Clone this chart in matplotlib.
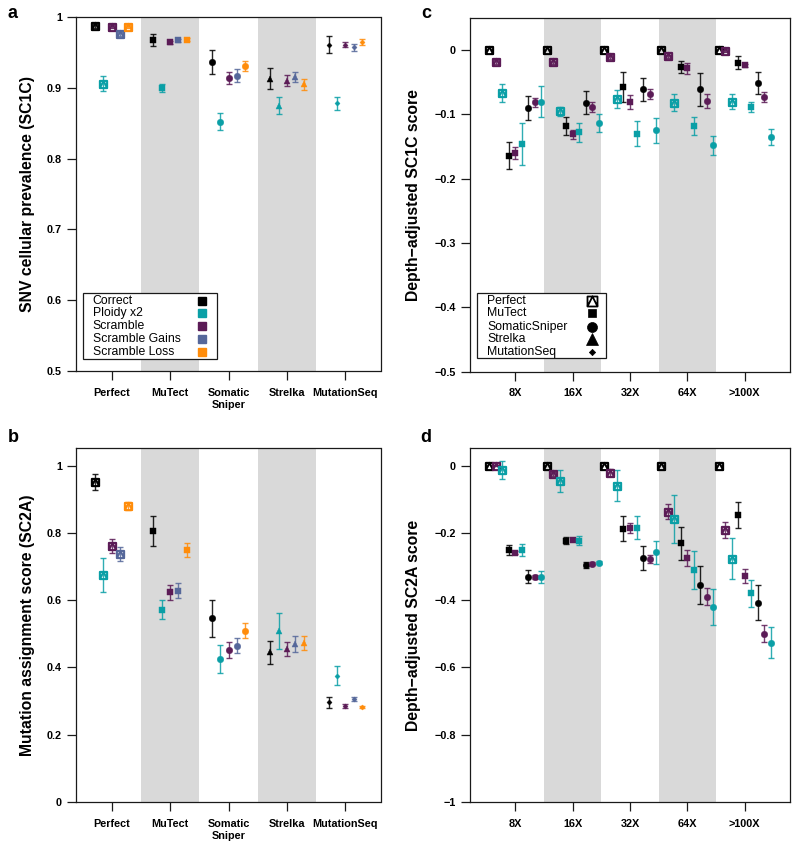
import numpy as np
import matplotlib
matplotlib.use('Agg')
import matplotlib.pyplot as plt
from matplotlib.path import Path
from matplotlib.patches import Rectangle

plt.rcParams['font.family'] = ['Liberation Sans', 'DejaVu Sans']

# ---------------- data ----------------
tools = ['Perfect', 'MuTect', 'Somatic\nSniper', 'Strelka', 'MutationSeq']
conditions = ['Correct', 'Ploidy x2', 'Scramble', 'Scramble Gains', 'Scramble Loss']
depths = ['8X', '16X', '32X', '64X', '>100X']
legend_tools = ['Perfect', 'MuTect', 'SomaticSniper', 'Strelka', 'MutationSeq']

# panel a: SNV cellular prevalence (SC1C), per tool
a_correct = [0.987, 0.968, 0.936, 0.913, 0.961]
a_correct_err = [0.003, 0.0085, 0.017, 0.015, 0.012]
a_ploidy = [0.906, 0.900, 0.852, 0.875, 0.878]
a_ploidy_err = [0.011, 0.006, 0.012, 0.012, 0.009]
a_scramble = [0.986, 0.964, 0.914, 0.910, 0.961]
a_scramble_err = [0.002, 0.002, 0.008, 0.008, 0.004]
a_gains = [0.976, 0.967, 0.917, 0.915, 0.957]
a_gains_err = [0.003, 0.002, 0.009, 0.007, 0.005]
a_loss = [0.986, 0.968, 0.931, 0.905, 0.965]
a_loss_err = [0.002, 0.002, 0.007, 0.008, 0.004]

# panel b: Mutation assignment score (SC2A), per tool
b_correct = [0.952, 0.805, 0.546, 0.445, 0.296]
b_correct_err = [0.023, 0.045, 0.056, 0.034, 0.017]
b_ploidy = [0.675, 0.572, 0.425, 0.509, 0.375]
b_ploidy_err = [0.052, 0.028, 0.042, 0.054, 0.028]
b_scramble = [0.761, 0.624, 0.452, 0.454, 0.285]
b_scramble_err = [0.020, 0.022, 0.023, 0.021, 0.006]
b_gains = [0.738, 0.628, 0.465, 0.470, 0.306]
b_gains_err = [0.020, 0.022, 0.023, 0.025, 0.007]
b_loss = [0.880, 0.749, 0.509, 0.472, 0.283]
b_loss_err = [0.012, 0.020, 0.022, 0.021, 0.003]

# panel c: Depth-adjusted SC1C score, per depth
c_perfect_correct = [0.0, 0.0, 0.0, 0.0, 0.0]
c_perfect_correct_err = [0.0, 0.0, 0.0, 0.0, 0.0]
c_perfect_scramble = [-0.019, -0.018, -0.011, -0.010, -0.001]
c_perfect_scramble_err = [0.003, 0.004, 0.003, 0.003, 0.002]
c_perfect_ploidy = [-0.067, -0.095, -0.076, -0.082, -0.080]
c_perfect_ploidy_err = [0.0145, 0.007, 0.014, 0.013, 0.012]
c_mutect_correct = [-0.164, -0.118, -0.057, -0.026, -0.020]
c_mutect_correct_err = [0.021, 0.014, 0.023, 0.009, 0.010]
c_mutect_scramble = [-0.160, -0.131, -0.081, -0.0285, -0.024]
c_mutect_scramble_err = [0.009, 0.007, 0.011, 0.008, 0.002]
c_mutect_ploidy = [-0.146, -0.128, -0.130, -0.118, -0.088]
c_mutect_ploidy_err = [0.033, 0.015, 0.019, 0.014, 0.008]
c_ss_correct = [-0.090, -0.082, -0.061, -0.061, -0.051]
c_ss_correct_err = [0.018, 0.018, 0.018, 0.026, 0.017]
c_ss_scramble = [-0.081, -0.089, -0.068, -0.079, -0.073]
c_ss_scramble_err = [0.007, 0.008, 0.008, 0.011, 0.007]
c_ss_ploidy = [-0.080, -0.113, -0.125, -0.148, -0.135]
c_ss_ploidy_err = [0.024, 0.014, 0.020, 0.015, 0.013]

# panel d: Depth-adjusted SC2A score, per depth
d_perfect_correct = [0.0, 0.0, 0.0, 0.0, 0.0]
d_perfect_correct_err = [0.0, 0.0, 0.0, 0.0, 0.0]
d_perfect_scramble = [0.0, -0.026, -0.021, -0.137, -0.190]
d_perfect_scramble_err = [0.002, 0.006, 0.010, 0.023, 0.024]
d_perfect_ploidy = [-0.013, -0.045, -0.059, -0.159, -0.276]
d_perfect_ploidy_err = [0.028, 0.032, 0.046, 0.072, 0.061]
d_mutect_correct = [-0.251, -0.223, -0.187, -0.230, -0.147]
d_mutect_correct_err = [0.015, 0.010, 0.036, 0.049, 0.039]
d_mutect_scramble = [-0.259, -0.222, -0.184, -0.275, -0.328]
d_mutect_scramble_err = [0.004, 0.003, 0.015, 0.024, 0.020]
d_mutect_ploidy = [-0.251, -0.223, -0.184, -0.310, -0.380]
d_mutect_ploidy_err = [0.017, 0.013, 0.035, 0.057, 0.040]
d_ss_correct = [-0.330, -0.295, -0.275, -0.355, -0.407]
d_ss_correct_err = [0.019, 0.010, 0.035, 0.057, 0.053]
d_ss_scramble = [-0.330, -0.291, -0.277, -0.390, -0.500]
d_ss_scramble_err = [0.006, 0.004, 0.012, 0.025, 0.025]
d_ss_ploidy = [-0.330, -0.288, -0.258, -0.420, -0.526]
d_ss_ploidy_err = [0.018, 0.004, 0.034, 0.053, 0.047]

# ---------------- styles ----------------
COL = {'Correct': '#000000', 'Ploidy x2': '#0A9FA6', 'Scramble': '#5B1B56',
       'Scramble Gains': '#55679A', 'Scramble Loss': '#FF8C0A'}
BAND = '#D9D9D9'

perfect_marker = Path(
    [(-0.5, -0.5), (0.5, -0.5), (0.5, 0.5), (-0.5, 0.5), (-0.5, -0.5),
     (-0.5, -0.5), (0.0, 0.5), (0.5, -0.5)],
    [Path.MOVETO, Path.LINETO, Path.LINETO, Path.LINETO, Path.CLOSEPOLY,
     Path.MOVETO, Path.LINETO, Path.LINETO])

# marker, size (pt), hollow
TOOL_MK = [(perfect_marker, 5.2, True), ('s', 4.3, False), ('o', 4.7, False),
           ('^', 5.0, False), ('D', 2.6, False)]

fig = plt.figure(figsize=(8, 8.52), dpi=100)


def px_axes(l, t, r, b):
    return fig.add_axes([l / 800, 1 - b / 852, (r - l) / 800, (b - t) / 852])


def draw_point(ax, x, y, e, color, mk):
    m, ms, hollow = mk
    if e > 0:
        ax.errorbar([x], [y], yerr=[e], fmt='none', ecolor=color, alpha=0.85,
                    elinewidth=1.0, capsize=2.2, capthick=1.0, zorder=2)
    if hollow:
        ax.plot([x], [y], marker=m, ms=ms, mfc='none', mec=color, mew=1.5,
                ls='none', zorder=3)
    else:
        ax.plot([x], [y], marker=m, ms=ms, mfc=color, mec=color, mew=0.3,
                ls='none', zorder=3)


def style(ax, xticks, xlabels, yticks, ylabels, xlim, ylim, ylabel, lab_x):
    ax.set_xlim(*xlim)
    ax.set_ylim(*ylim)
    for i in (2, 4):
        ax.axvspan(i - 0.5, i + 0.5, color=BAND, lw=0, zorder=0)
    ax.set_xticks(xticks)
    ax.set_xticklabels(xlabels, fontweight='bold', fontsize=7.8, linespacing=1.25)
    ax.set_yticks(yticks)
    ax.set_yticklabels(ylabels, fontweight='bold', fontsize=7.8)
    for s in ax.spines.values():
        s.set_linewidth(0.9)
        s.set_color('#1a1a1a')
    ax.tick_params(axis='both', direction='out', length=6.5, width=0.9, color='#1a1a1a')
    ax.tick_params(axis='x', pad=5.5)
    ax.tick_params(axis='y', pad=3.5)
    ax.text(lab_x, 0.5, ylabel, transform=ax.transAxes, rotation=90, ha='center',
            va='center', fontweight='bold', fontsize=11.3)


pos = np.arange(1, 6)

# ---------- panels a & b ----------
def tool_panel(ax, series):
    for ci, (cond, vals, errs) in enumerate(series):
        off = (ci - 2) * 0.143
        for ti in range(5):
            draw_point(ax, pos[ti] + off, vals[ti], errs[ti], COL[cond], TOOL_MK[ti])


axA = px_axes(76, 17, 380.5, 371)
tool_panel(axA, [('Correct', a_correct, a_correct_err), ('Ploidy x2', a_ploidy, a_ploidy_err),
                 ('Scramble', a_scramble, a_scramble_err), ('Scramble Gains', a_gains, a_gains_err),
                 ('Scramble Loss', a_loss, a_loss_err)])
style(axA, pos, tools, [0.5, 0.6, 0.7, 0.8, 0.9, 1.0], ['0.5', '0.6', '0.7', '0.8', '0.9', '1'],
      (0.39, 5.6), (0.5, 1.0), 'SNV cellular prevalence (SC1C)', -0.158)

axB = px_axes(76, 448, 380.5, 802)
tool_panel(axB, [('Correct', b_correct, b_correct_err), ('Ploidy x2', b_ploidy, b_ploidy_err),
                 ('Scramble', b_scramble, b_scramble_err), ('Scramble Gains', b_gains, b_gains_err),
                 ('Scramble Loss', b_loss, b_loss_err)])
style(axB, pos, tools, [0, 0.2, 0.4, 0.6, 0.8, 1.0], ['0', '0.2', '0.4', '0.6', '0.8', '1'],
      (0.39, 5.6), (0.0, 1.0526), 'Mutation assignment score (SC2A)', -0.158)

# legend a
axA.add_patch(Rectangle((0.022, 0.034), 0.441, 0.1855, transform=axA.transAxes,
                        fc='white', ec='#1a1a1a', lw=0.9, zorder=5))
rows = [0.1986, 0.163, 0.1271, 0.0895, 0.0545]
for cond, yr in zip(conditions, rows):
    axA.text(0.0549, yr, cond, transform=axA.transAxes, ha='left', va='center',
             fontsize=8.8, zorder=6)
    axA.plot([0.4128], [yr], marker='s', ms=6.2, mfc=COL[cond], mec=COL[cond],
             transform=axA.transAxes, zorder=6, clip_on=False)

# ---------- panels c & d ----------
def depth_panel(ax, series):
    k = 0
    for ti, group in enumerate(series):
        for cond, vals, errs in group:
            off = (k - 4) * 0.1134
            for di in range(5):
                draw_point(ax, pos[di] + off, vals[di], errs[di], COL[cond], TOOL_MK[ti])
            k += 1


axC = px_axes(470, 18, 790, 371.7)
depth_panel(axC, [
    [('Correct', c_perfect_correct, c_perfect_correct_err),
     ('Scramble', c_perfect_scramble, c_perfect_scramble_err),
     ('Ploidy x2', c_perfect_ploidy, c_perfect_ploidy_err)],
    [('Correct', c_mutect_correct, c_mutect_correct_err),
     ('Scramble', c_mutect_scramble, c_mutect_scramble_err),
     ('Ploidy x2', c_mutect_ploidy, c_mutect_ploidy_err)],
    [('Correct', c_ss_correct, c_ss_correct_err),
     ('Scramble', c_ss_scramble, c_ss_scramble_err),
     ('Ploidy x2', c_ss_ploidy, c_ss_ploidy_err)]])
style(axC, pos, depths, [0, -0.1, -0.2, -0.3, -0.4, -0.5],
      ['0', '\u22120.1', '\u22120.2', '\u22120.3', '\u22120.4', '\u22120.5'],
      (0.21, 5.79), (-0.5, 0.0498), 'Depth\u2212adjusted SC1C score', -0.177)

axD = px_axes(470, 448, 790, 802)
depth_panel(axD, [
    [('Correct', d_perfect_correct, d_perfect_correct_err),
     ('Scramble', d_perfect_scramble, d_perfect_scramble_err),
     ('Ploidy x2', d_perfect_ploidy, d_perfect_ploidy_err)],
    [('Correct', d_mutect_correct, d_mutect_correct_err),
     ('Scramble', d_mutect_scramble, d_mutect_scramble_err),
     ('Ploidy x2', d_mutect_ploidy, d_mutect_ploidy_err)],
    [('Correct', d_ss_correct, d_ss_correct_err),
     ('Scramble', d_ss_scramble, d_ss_scramble_err),
     ('Ploidy x2', d_ss_ploidy, d_ss_ploidy_err)]])
style(axD, pos, depths, [0, -0.2, -0.4, -0.6, -0.8, -1.0],
      ['0', '\u22120.2', '\u22120.4', '\u22120.6', '\u22120.8', '\u22121'],
      (0.21, 5.79), (-1.0, 0.0526), 'Depth\u2212adjusted SC2A score', -0.177)

# legend c
axC.add_patch(Rectangle((0.021, 0.0396), 0.403, 0.1821, transform=axC.transAxes,
                        fc='white', ec='#1a1a1a', lw=0.9, zorder=5))
rows_c = [0.2007, 0.1651, 0.1272, 0.0916, 0.0565]
leg_mk = [(perfect_marker, 7.2, True), ('s', 5.8, False), ('o', 7.2, False),
          ('^', 8.0, False), ('D', 3.2, False)]
for name, yr, (m, ms, hollow) in zip(legend_tools, rows_c, leg_mk):
    axC.text(0.0541, yr, name, transform=axC.transAxes, ha='left', va='center',
             fontsize=8.8, zorder=6)
    axC.plot([0.3803], [yr], marker=m, ms=ms, mfc='none' if hollow else 'black',
             mec='black', mew=1.3 if hollow else 0.5, transform=axC.transAxes,
             zorder=6, clip_on=False)

# panel letters
for letter, (x, y) in zip('abcd', [(13, 13), (13, 438), (426, 13), (426, 438)]):
    fig.text(x / 800, 1 - y / 852, letter, fontweight='bold', fontsize=13,
             ha='center', va='center')

fig.savefig('out.png', dpi=100)
